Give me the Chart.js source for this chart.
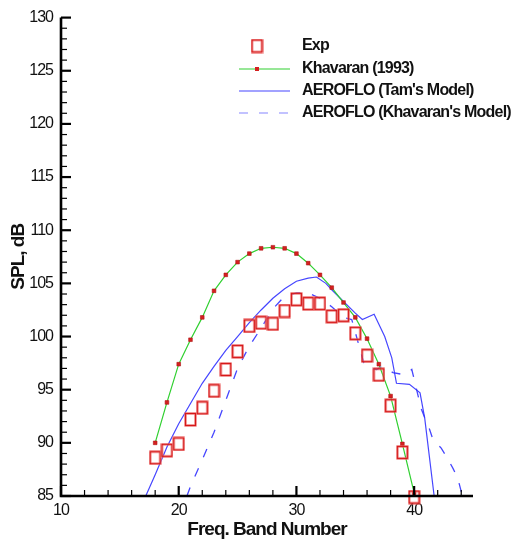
<!DOCTYPE html>
<html lang="en">
<head>
<meta charset="UTF-8">
<title>SPL vs Freq. Band Number</title>
<script src="https://cdn.jsdelivr.net/npm/chart.js"></script>
<style>
    body { margin: 0; background: #fff; }
    #box { width: 516px; height: 548px; }
</style>
</head>
<body>
<div id="box"><canvas id="grafico"></canvas></div>
<script>
    var bandNo = [18, 19, 20, 21, 22, 23, 24, 25, 26, 27, 28, 29, 30, 31, 32, 33, 34, 35, 36, 37, 38, 39, 40];
    var expSpl = [88.6, 89.3, 89.9, 92.2, 93.3, 94.9, 96.9, 98.6, 101.0, 101.3, 101.2, 102.4, 103.5, 103.1, 103.1, 101.9, 102.0, 100.3, 98.2, 96.4, 93.5, 89.1, 84.9];
    var khavaranSpl = [90.0, 93.8, 97.4, 99.7, 101.8, 104.3, 105.8, 107.0, 107.8, 108.3, 108.4, 108.3, 107.8, 106.9, 105.8, 104.6, 103.2, 101.8, 99.8, 97.4, 94.4, 89.9, 85.3];

    var tamBand = [17.2, 18, 19, 20, 21, 22, 23, 24, 25, 26, 27, 28, 29, 30, 31, 31.7, 32.5, 33, 34, 35, 35.6, 36.6, 37.5, 38.1, 38.5, 39.6, 40.5, 40.9, 41.7];
    var tamSpl = [85, 87.0, 89.6, 91.8, 93.7, 95.6, 97.2, 98.7, 100.0, 101.3, 102.5, 103.6, 104.5, 105.2, 105.5, 105.6, 105.0, 104.4, 103.3, 102.2, 101.6, 102.1, 100.0, 98.0, 95.6, 95.5, 94.7, 92.3, 85];

    var khModelBand = [20.7, 21, 22, 23, 24, 25, 26, 27, 28, 29, 30, 31, 32, 33, 34, 34.7, 35, 35.3, 35.8, 36.8, 37.3, 38.2, 39.2, 39.8, 40.6, 41.3, 41.6, 42.3, 42.8, 43.3, 43.7, 44.1];
    var khModelSpl = [85, 85.9, 88.4, 91.0, 94.0, 97.0, 99.1, 100.8, 102.6, 103.8, 104.1, 104.1, 103.6, 102.8, 101.8, 101.6, 100.4, 99.2, 97.2, 96.9, 97.2, 96.6, 96.4, 96.9, 93.2, 91.3, 90.3, 89.5, 88.6, 87.6, 86.7, 85];

    var xLabels = [10, 20, 30, 40];
    var yLabels = [85, 90, 95, 100, 105, 110, 115, 120, 125, 130];
    var legendNames = ['Exp', 'Khavaran (1993)', "AEROFLO (Tam's Model)", "AEROFLO (Khavaran's Model)"];

    function pares(xs, ys) {
        var out = [];
        for (var i = 0; i < xs.length; i++) out.push({ x: xs[i], y: ys[i] });
        return out;
    }

    // open square used for the Exp symbol
    var quadrado = document.createElement('canvas');
    quadrado.width = 13;
    quadrado.height = 15;
    var qc = quadrado.getContext('2d');
    qc.strokeStyle = 'rgba(240, 120, 120, 0.8)';
    qc.lineWidth = 2.4;
    qc.strokeRect(1.5, 1.5, 10, 12);
    qc.strokeStyle = 'rgb(214, 24, 24)';
    qc.lineWidth = 1.3;
    qc.strokeRect(1.5, 1.5, 10, 12);

    var corVerde = '#30d030';
    var corAzul = 'rgba(50, 50, 255, 0.9)';
    var corTraco = 'rgba(60, 60, 255, 0.95)';
    var fonte = '"Liberation Sans", Arial, sans-serif';

    var moldura = {
        id: 'moldura',
        beforeDraw: function (chart) {
            chart.ctx.letterSpacing = '-1px';
        },
        afterDraw: function (chart) {
            var ctx = chart.ctx;
            var a = chart.chartArea;
            var xs = chart.scales.x, ys = chart.scales.y;
            ctx.save();
            ctx.letterSpacing = '0px';
            ctx.strokeStyle = '#000';

            // tick marks, pointing inside
            xs.ticks.forEach(function (t) {
                var px = xs.getPixelForValue(t.value);
                var major = t.value % 10 === 0;
                ctx.lineWidth = major ? 2.2 : 1.2;
                ctx.beginPath();
                ctx.moveTo(px, a.bottom);
                ctx.lineTo(px, a.bottom - (major ? 10 : 6));
                ctx.stroke();
            });
            ys.ticks.forEach(function (t) {
                var py = ys.getPixelForValue(t.value);
                var major = t.value % 5 === 0;
                ctx.lineWidth = major ? 2.2 : 1.2;
                ctx.beginPath();
                ctx.moveTo(a.left, py);
                ctx.lineTo(a.left + (major ? 10 : 6), py);
                ctx.stroke();
            });

            // axis lines
            ctx.lineWidth = 2.6;
            ctx.beginPath();
            ctx.moveTo(a.left, a.top);
            ctx.lineTo(a.left, a.bottom);
            ctx.lineTo(a.right, a.bottom);
            ctx.stroke();

            // legend
            var lx = 302;
            var linhas = [46, 69, 91, 113];
            ctx.drawImage(quadrado, 257 - 6.5, linhas[0] - 7.5);

            ctx.lineWidth = 1.2;
            ctx.strokeStyle = corVerde;
            ctx.beginPath(); ctx.moveTo(239, linhas[1]); ctx.lineTo(290, linhas[1]); ctx.stroke();
            ctx.fillStyle = '#d42020';
            ctx.fillRect(255, linhas[1] - 2, 4, 4);

            ctx.strokeStyle = corAzul;
            ctx.beginPath(); ctx.moveTo(239, linhas[2]); ctx.lineTo(290, linhas[2]); ctx.stroke();

            ctx.strokeStyle = 'rgba(120, 120, 255, 0.9)';
            ctx.setLineDash([9, 11]);
            ctx.beginPath(); ctx.moveTo(239, linhas[3]); ctx.lineTo(290, linhas[3]); ctx.stroke();
            ctx.setLineDash([]);

            ctx.fillStyle = '#111';
            ctx.font = 'bold 16px ' + fonte;
            ctx.letterSpacing = '-0.8px';
            ctx.textBaseline = 'middle';
            ctx.textAlign = 'left';
            for (var i = 0; i < legendNames.length; i++) {
                ctx.fillText(legendNames[i], lx, linhas[i]);
            }
            ctx.restore();
        }
    };

    var ctx = document.getElementById('grafico').getContext('2d');
    var myChart = new Chart(ctx, {
        type: 'scatter',
        data: {
            datasets: [{
                label: legendNames[0],
                data: pares(bandNo, expSpl),
                showLine: false,
                pointStyle: quadrado,
                pointRadius: 6,
                clip: false
            }, {
                label: legendNames[1],
                data: pares(bandNo, khavaranSpl),
                showLine: true,
                borderColor: corVerde,
                borderWidth: 1.2,
                pointStyle: 'rect',
                pointRadius: 2.6,
                pointBackgroundColor: '#d42020',
                pointBorderColor: '#b01515',
                pointBorderWidth: 0.6
            }, {
                label: legendNames[2],
                data: pares(tamBand, tamSpl),
                showLine: true,
                borderColor: corAzul,
                borderWidth: 1.2,
                pointRadius: 0
            }, {
                label: legendNames[3],
                data: pares(khModelBand, khModelSpl),
                showLine: true,
                borderColor: corTraco,
                borderWidth: 1.3,
                borderDash: [9, 12],
                pointRadius: 0
            }]
        },
        options: {
            responsive: true,
            maintainAspectRatio: false,
            animation: false,
            layout: { padding: { left: 0, right: 43, top: 16, bottom: 0 } },
            plugins: {
                legend: { display: false },
                tooltip: { enabled: false }
            },
            scales: {
                x: {
                    type: 'linear',
                    min: 10,
                    max: 45,
                    afterFit: function (s) { s.height = 52; },
                    grid: { display: false, drawTicks: false },
                    border: { display: false },
                    ticks: {
                        stepSize: 2,
                        includeBounds: false,
                        autoSkip: false,
                        maxRotation: 0,
                        padding: 5,
                        color: '#111',
                        font: { family: fonte, size: 16 },
                        callback: function (v) { return xLabels.indexOf(v) >= 0 ? String(v) : ''; }
                    },
                    title: {
                        display: true,
                        text: 'Freq. Band Number',
                        color: '#111',
                        padding: { top: 0, bottom: 7 },
                        font: { family: fonte, size: 19, weight: 'bold' }
                    }
                },
                y: {
                    type: 'linear',
                    min: 85,
                    max: 130,
                    afterFit: function (s) { s.width = 61; },
                    grid: { display: false, drawTicks: false },
                    border: { display: false },
                    ticks: {
                        stepSize: 1,
                        autoSkip: false,
                        padding: 8,
                        color: '#111',
                        font: { family: fonte, size: 16 },
                        callback: function (v) { return yLabels.indexOf(v) >= 0 ? String(v) : ''; }
                    },
                    title: {
                        display: true,
                        text: 'SPL, dB',
                        color: '#111',
                        padding: { top: 7, bottom: 0 },
                        font: { family: fonte, size: 19, weight: 'bold' }
                    }
                }
            }
        },
        plugins: [moldura]
    });
</script>
</body>
</html>
